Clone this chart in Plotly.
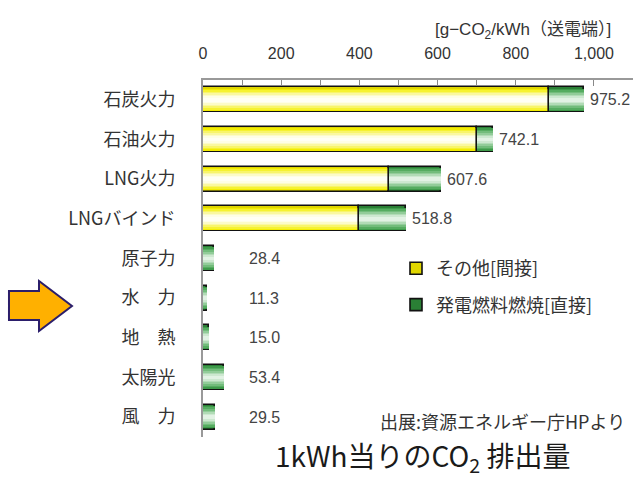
import plotly.graph_objects as go

# CO2 emission per kWh by generation type (g-CO2/kWh, sending end)
categories = ["石炭火力", "石油火力", "LNG火力", "LNGバインド",
              "原子力", "水　力", "地　熱", "太陽光", "風　力"]
indirect = [885.0, 702.0, 476.0, 398.0, 0.0, 0.0, 0.0, 0.0, 0.0]      # その他[間接]
direct = [90.2, 40.1, 131.6, 120.8, 28.4, 11.3, 15.0, 53.4, 29.5]     # 発電燃料燃焼[直接]
totals = [a + b for a, b in zip(indirect, direct)]

W, H = 636, 479
M_L, M_R, M_T, M_B = 203, 3, 80, 42
PW, PH = W - M_L - M_R, H - M_T - M_B


def px(x):
    return (x - M_L) / PW


def py(y):
    return (H - M_B - y) / PH


FONT = "Liberation Sans, Arial, Noto Sans CJK JP, sans-serif"
JFONT = "Noto Sans CJK JP, sans-serif"

BAR_W = 0.63
# shading layers (width, colour) giving a rounded, tube-like fill
LAYER_W = [0.57, 0.49, 0.41, 0.33, 0.25, 0.17, 0.09]
YELLOWS = ["#F2EC00", "#F6F230", "#F8F56A", "#FAF8A0", "#FCFBC8", "#FEFEE6", "#FFFFF5"]
GREENS = ["#3E9A4A", "#55AC60", "#72BC7B", "#92CC99", "#B1DBB6", "#CDE8D0", "#E2F2E4"]

fig = go.Figure()


def add_segment(name, values, base, edge, shades):
    fig.add_trace(go.Bar(
        y=categories, x=values, base=base, orientation="h", width=BAR_W,
        name=name, legendgroup=name,
        marker=dict(color=edge, line=dict(color="#111111", width=1.6)),
        hoverinfo="skip",
    ))
    for w, c in zip(LAYER_W, shades):
        fig.add_trace(go.Bar(
            y=categories, x=values, base=base, orientation="h", width=w,
            showlegend=False, legendgroup=name,
            marker=dict(color=c, line=dict(width=0)),
            hoverinfo="skip",
        ))


add_segment("その他[間接]", indirect, [0] * len(categories), "#E0D600", YELLOWS)
add_segment("発電燃料燃焼[直接]", direct, indirect, "#2A7F35", GREENS)

# value labels: beside the bar for thermal plants, in a fixed column otherwise
for cat, ind, tot in zip(categories, indirect, totals):
    beside = ind > 0
    fig.add_annotation(
        x=tot if beside else 112, y=cat, xref="x", yref="y",
        text=f"{tot:.1f}", showarrow=False, xanchor="left",
        xshift=4 if beside else 0,
        font=dict(family=FONT, size=16, color="#444444"),
    )

# unit label above the axis
fig.add_annotation(
    x=px(613), y=py(31), xref="paper", yref="paper",
    text="[g−CO<sub>2</sub>/kWh（送電端）]", showarrow=False,
    xanchor="right", yanchor="middle",
    font=dict(family=FONT, size=17, color="#333333"),
)

# source note
fig.add_annotation(
    x=px(627), y=py(421), xref="paper", yref="paper",
    text="出展:資源エネルギー庁HPより", showarrow=False,
    xanchor="right", yanchor="middle",
    font=dict(family=JFONT, size=18, color="#333333"),
)

# chart title below the plot
fig.add_annotation(
    x=px(422), y=py(457), xref="paper", yref="paper",
    text="1kWh当りのCO<sub>2</sub> 排出量", showarrow=False,
    xanchor="center", yanchor="middle",
    font=dict(family=JFONT, size=28, color="#1a1a1a"),
)

# orange pointer arrow
pts = [(9, 291), (39, 291), (39, 281), (72, 306), (39, 331), (39, 320), (9, 320)]
path = "M " + " L ".join(f"{px(x):.4f},{py(y):.4f}" for x, y in pts) + " Z"
fig.add_shape(type="path", path=path, xref="paper", yref="paper",
              fillcolor="#FFB000", line=dict(color="#2B1E6B", width=2))

fig.update_layout(
    width=W, height=H,
    margin=dict(l=M_L, r=M_R, t=M_T, b=M_B),
    paper_bgcolor="white", plot_bgcolor="white",
    barmode="overlay", bargap=0,
    showlegend=True,
    legend=dict(
        x=px(396), y=py(250), xanchor="left", yanchor="top",
        bgcolor="rgba(0,0,0,0)", tracegroupgap=10,
        font=dict(family=JFONT, size=18, color="#333333"),
    ),
    xaxis=dict(
        side="top", range=[0, 1100], dtick=200, tickformat=",",
        showgrid=False, zeroline=False,
        showline=True, linecolor="#999999", linewidth=1.5,
        ticks="inside", ticklen=6, tickcolor="#888888",
        minor=dict(dtick=100, ticks="inside", ticklen=6, tickcolor="#888888"),
        ticklabelstandoff=13,
        tickfont=dict(family=FONT, size=16, color="#333333"),
    ),
    yaxis=dict(
        categoryorder="array", categoryarray=categories,
        autorange="reversed",
        showgrid=False, zeroline=False,
        showline=True, linecolor="#999999", linewidth=2,
        ticks="", ticklabelstandoff=22,
        tickfont=dict(family=JFONT, size=18, color="#333333"),
    ),
)

fig.write_html("out.html")
